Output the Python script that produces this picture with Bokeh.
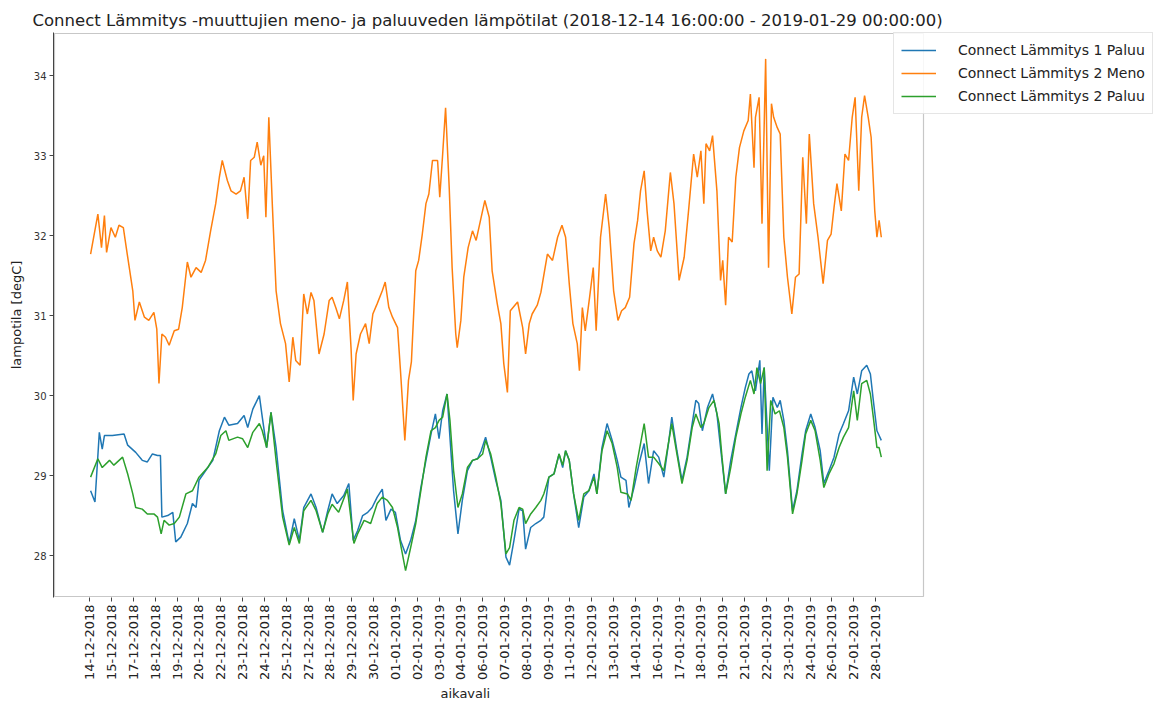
import math
import pandas as pd
from bokeh.plotting import figure
from bokeh.models import (Legend, LegendItem, FixedTicker, DatetimeTickFormatter, Range1d,
                          BoxAnnotation, Title)
from bokeh.embed import file_html
from bokeh.resources import INLINE

# ---------------- data ----------------
start_time = "2018-12-14 16:00:00"
end_time = "2019-01-29 00:00:00"
tick_step_hours = 30
n_ticks = 37

# Connect Lämmitys 1 Paluu (hours from start, degC)
paluu1_hours = [1, 7, 13, 17, 20, 31, 47, 52, 63, 72, 79, 86, 93, 97, 99, 107, 114, 118, 125, 134,
                141, 146, 150, 159, 169, 178, 185, 191, 203, 212, 217, 224, 233, 237, 243, 249, 256, 265, 274, 281,
                288, 294, 304, 311, 320, 327, 333, 340, 349, 356, 362, 368, 375, 382, 388, 395, 402, 407, 414, 420,
                427, 434, 441, 448, 455, 462, 469, 475, 480, 485, 491, 495, 500, 506, 512, 519, 526, 533, 538, 544,
                551, 558, 565, 572, 577, 583, 590, 595, 599, 606, 613, 620, 624, 631, 638, 645, 650, 654, 659, 665,
                672, 679, 686, 693, 697, 704, 711, 718, 725, 730, 737, 741, 748, 755, 762, 768, 775, 782, 789, 796,
                800, 807, 814, 821, 828, 833, 837, 842, 849, 856, 862, 867, 874, 881, 888, 895, 901, 906, 910, 915,
                921, 924, 927, 934, 939, 945, 949, 954, 959, 966, 972, 979, 984, 991, 997, 1004, 1009, 1016, 1023, 1030,
                1036, 1043, 1050, 1055, 1061, 1068, 1073, 1077, 1082, 1085, 1088]
paluu1_vals = [28.81, 28.67, 29.54, 29.33, 29.50, 29.50, 29.52, 29.38, 29.29, 29.19, 29.17, 29.27, 29.25, 29.25, 28.48, 28.50, 28.54, 28.17, 28.23, 28.40,
               28.65, 28.60, 28.94, 29.06, 29.19, 29.56, 29.73, 29.63, 29.65, 29.75, 29.60, 29.83, 30.00, 29.73, 29.35, 29.79, 29.35, 28.56, 28.15, 28.46,
               28.19, 28.60, 28.77, 28.60, 28.29, 28.56, 28.77, 28.65, 28.75, 28.90, 28.19, 28.31, 28.50, 28.54, 28.60, 28.73, 28.83, 28.44, 28.58, 28.54,
               28.19, 28.02, 28.19, 28.44, 28.85, 29.19, 29.52, 29.77, 29.46, 29.81, 30.02, 29.48, 28.81, 28.27, 28.69, 29.06, 29.19, 29.21, 29.31, 29.48,
               29.23, 28.94, 28.69, 27.98, 27.88, 28.19, 28.58, 28.56, 28.08, 28.35, 28.40, 28.44, 28.48, 28.98, 29.02, 29.27, 29.10, 29.31, 29.19, 28.77,
               28.35, 28.73, 28.81, 29.02, 28.77, 29.35, 29.65, 29.44, 29.19, 28.98, 28.94, 28.60, 28.85, 29.15, 29.40, 28.90, 29.31, 29.23, 28.98, 29.44,
               29.73, 29.31, 28.94, 29.23, 29.65, 29.94, 29.90, 29.56, 29.85, 30.02, 29.77, 29.35, 28.77, 29.19, 29.52, 29.85, 30.10, 30.27, 30.31, 30.06,
               30.44, 29.52, 30.35, 29.06, 29.98, 29.85, 29.94, 29.69, 29.31, 28.56, 28.81, 29.27, 29.56, 29.77, 29.60, 29.31, 28.90, 29.06, 29.23, 29.52,
               29.65, 29.81, 30.23, 30.02, 30.31, 30.38, 30.27, 29.94, 29.56, 29.50, 29.44]

# Connect Lämmitys 2 Meno
meno2_hours = [1, 11, 16, 20, 23, 29, 35, 40, 46, 52, 59, 62, 68, 75, 81, 88, 92, 95, 99, 104,
               109, 116, 122, 127, 134, 139, 146, 153, 159, 166, 173, 178, 182, 189, 194, 201, 207, 212, 217, 221,
               226, 230, 235, 239, 242, 246, 251, 256, 262, 269, 274, 279, 283, 289, 294, 299, 304, 308, 315, 322,
               329, 333, 338, 343, 349, 354, 359, 362, 366, 372, 379, 384, 389, 395, 402, 406, 411, 416, 423, 427,
               433, 438, 442, 448, 452, 457, 462, 466, 471, 478, 481, 485, 489, 494, 498, 503, 505, 510, 514, 520,
               526, 531, 537, 543, 549, 553, 560, 565, 569, 574, 578, 588, 595, 599, 604, 608, 615, 620, 629, 636,
               643, 649, 654, 659, 664, 670, 673, 677, 681, 687, 692, 696, 702, 709, 714, 720, 726, 731, 736, 742,
               748, 753, 757, 762, 766, 771, 775, 780, 785, 791, 798, 803, 810, 817, 823, 830, 835, 840, 844, 847,
               852, 856, 862, 867, 870, 874, 878, 883, 888, 893, 899, 905, 908, 913, 915, 920, 924, 929, 933, 937,
               940, 945, 949, 954, 959, 965, 970, 975, 980, 985, 989, 995, 1001, 1008, 1014, 1019, 1023, 1027, 1033, 1038,
               1043, 1048, 1052, 1057, 1061, 1065, 1070, 1074, 1079, 1082, 1085, 1088]
meno2_vals = [31.77, 32.27, 31.85, 32.25, 31.79, 32.10, 31.98, 32.13, 32.10, 31.73, 31.31, 30.94, 31.17, 30.98, 30.94, 31.04, 30.83, 30.15, 30.77, 30.73,
              30.63, 30.81, 30.83, 31.10, 31.67, 31.48, 31.60, 31.54, 31.69, 32.06, 32.40, 32.73, 32.94, 32.69, 32.56, 32.52, 32.56, 32.73, 32.21, 32.94,
              32.98, 33.17, 32.88, 33.00, 32.23, 33.48, 32.35, 31.31, 30.90, 30.65, 30.17, 30.73, 30.44, 30.38, 31.27, 31.02, 31.29, 31.19, 30.52, 30.77,
              31.19, 31.23, 31.10, 30.96, 31.19, 31.42, 30.60, 29.94, 30.52, 30.77, 30.90, 30.65, 31.02, 31.15, 31.31, 31.42, 31.10, 30.98, 30.85, 30.31,
              29.44, 30.19, 30.42, 31.56, 31.69, 32.02, 32.40, 32.52, 32.94, 32.94, 32.48, 33.02, 33.60, 32.60, 31.60, 30.77, 30.60, 30.94, 31.48, 31.85,
              32.06, 31.94, 32.19, 32.44, 32.23, 31.56, 31.15, 30.90, 30.40, 30.04, 31.06, 31.17, 30.85, 30.52, 30.90, 31.02, 31.13, 31.29, 31.77, 31.69,
              31.98, 32.13, 31.98, 31.40, 30.90, 30.65, 30.31, 31.10, 30.81, 31.23, 31.60, 30.81, 31.98, 32.52, 32.10, 31.31, 30.94, 31.06, 31.10, 31.23,
              31.90, 32.19, 32.56, 32.81, 32.31, 31.81, 31.98, 31.81, 31.73, 32.06, 32.79, 32.40, 31.44, 31.73, 32.31, 33.02, 32.73, 33.06, 32.40, 33.15,
              33.06, 33.25, 32.56, 31.44, 31.69, 31.13, 31.98, 31.92, 32.73, 33.10, 33.31, 33.44, 33.77, 32.85, 33.48, 33.73, 32.15, 34.21, 31.60, 33.65,
              33.48, 33.35, 33.27, 31.98, 31.48, 31.02, 31.48, 31.52, 32.98, 32.15, 33.27, 32.40, 31.98, 31.40, 31.94, 32.02, 32.35, 32.65, 32.31, 33.02,
              32.94, 33.48, 33.73, 32.56, 33.48, 33.75, 33.48, 33.23, 32.31, 31.98, 32.19, 31.98]

# Connect Lämmitys 2 Paluu
paluu2_hours = [1, 11, 17, 27, 33, 45, 52, 59, 63, 72, 79, 88, 93, 98, 102, 109, 116, 123, 132, 141,
                150, 162, 173, 180, 187, 191, 203, 210, 217, 224, 233, 237, 243, 249, 256, 265, 274, 281, 288, 294,
                304, 311, 320, 327, 333, 342, 354, 363, 368, 377, 386, 395, 402, 409, 416, 423, 428, 434, 441, 448,
                455, 462, 469, 475, 480, 485, 491, 495, 500, 506, 512, 519, 526, 533, 540, 544, 551, 558, 565, 572,
                577, 583, 590, 595, 599, 606, 613, 620, 624, 631, 638, 645, 650, 654, 659, 665, 672, 679, 686, 693,
                697, 704, 711, 718, 725, 730, 739, 744, 751, 762, 768, 775, 782, 789, 796, 800, 807, 814, 821, 828,
                833, 840, 844, 851, 858, 865, 869, 874, 881, 888, 895, 901, 908, 913, 917, 922, 927, 931, 936, 942,
                948, 954, 959, 966, 972, 979, 984, 991, 997, 1004, 1009, 1016, 1023, 1030, 1036, 1043, 1050, 1055, 1061, 1068,
                1073, 1077, 1082, 1085, 1088]
paluu2_vals = [28.98, 29.21, 29.10, 29.19, 29.13, 29.23, 29.02, 28.77, 28.60, 28.58, 28.52, 28.52, 28.48, 28.27, 28.44, 28.38, 28.40, 28.48, 28.77, 28.81,
               28.98, 29.10, 29.27, 29.50, 29.56, 29.44, 29.48, 29.46, 29.35, 29.54, 29.65, 29.56, 29.35, 29.79, 29.19, 28.48, 28.13, 28.35, 28.15, 28.56,
               28.69, 28.56, 28.29, 28.52, 28.64, 28.54, 28.83, 28.15, 28.27, 28.44, 28.40, 28.65, 28.73, 28.69, 28.60, 28.35, 28.10, 27.81, 28.10, 28.40,
               28.81, 29.23, 29.56, 29.60, 29.69, 29.73, 30.02, 29.69, 29.06, 28.60, 28.77, 29.10, 29.19, 29.21, 29.27, 29.44, 29.27, 28.98, 28.65, 28.02,
               28.10, 28.44, 28.60, 28.58, 28.40, 28.52, 28.60, 28.69, 28.77, 28.98, 29.02, 29.27, 29.13, 29.31, 29.19, 28.77, 28.44, 28.77, 28.81, 28.98,
               28.77, 29.31, 29.56, 29.40, 29.10, 28.79, 28.77, 28.69, 29.10, 29.65, 29.23, 29.23, 29.15, 29.06, 29.44, 29.65, 29.27, 28.90, 29.19, 29.60,
               29.77, 29.60, 29.65, 29.85, 29.94, 29.65, 29.23, 28.77, 29.10, 29.48, 29.77, 29.98, 30.19, 30.02, 30.35, 30.15, 30.35, 29.06, 29.94, 29.77,
               29.81, 29.60, 29.23, 28.52, 28.77, 29.19, 29.52, 29.69, 29.56, 29.19, 28.85, 29.02, 29.15, 29.35, 29.48, 29.60, 30.06, 29.69, 30.15, 30.19,
               30.02, 29.73, 29.35, 29.35, 29.23]

series_labels = ["Connect Lämmitys 1 Paluu", "Connect Lämmitys 2 Meno", "Connect Lämmitys 2 Paluu"]
series_colors = ["#1f77b4", "#ff7f0e", "#2ca02c"]
y_ticks = [28, 29, 30, 31, 32, 33, 34]
title_text = "Connect Lämmitys -muuttujien meno- ja paluuveden lämpötilat (2018-12-14 16:00:00 - 2019-01-29 00:00:00)"
x_label = "aikavali"
y_label = "lampotila [degC]"

# ---------------- layout geometry (pixels) ----------------
W, H = 1164, 706
AX_LEFT, AX_RIGHT, AX_TOP, AX_BOTTOM = 53, 923, 32, 597   # axes box in page pixels
X_PAD_BEFORE, X_SPAN = 50, 1196                              # hours shown inside the axes box
FONT = "DejaVu Sans"

# the canvas frame runs to the right edge so that the legend can overlap the axes box;
# the visible axes box is drawn separately
frame_w = W - AX_LEFT
frame_h = AX_BOTTOM - AX_TOP
box_w = AX_RIGHT - AX_LEFT
hours_end = -X_PAD_BEFORE + X_SPAN * frame_w / box_w

t0 = pd.Timestamp(start_time)
def to_time(hours):
    return [t0 + pd.Timedelta(hours=h) for h in hours]

tick_ms = [int((t0 + pd.Timedelta(hours=tick_step_hours * i)).value // 10**6) for i in range(n_ticks)]

p = figure(width=W, height=H, x_axis_type="datetime",
           output_backend="svg", toolbar_location=None,
           x_range=Range1d(t0 - pd.Timedelta(hours=X_PAD_BEFORE), t0 + pd.Timedelta(hours=hours_end)),
           y_range=Range1d(27.475, 34.54),
           min_border_left=AX_LEFT, min_border_right=0, min_border_top=AX_TOP, min_border_bottom=H - AX_BOTTOM,
           background_fill_color="white", border_fill_color="white")
p.title = Title(text=title_text, align="left", offset=-21, text_font=FONT, text_font_size="16.5px",
                text_font_style="normal", text_color="#222222", standoff=5)

p.grid.visible = False
p.outline_line_color = None

for ax in (p.xaxis[0], p.yaxis[0]):
    ax.axis_line_color = "#444444"
    ax.major_tick_line_color = "#444444"
    ax.major_tick_out = 4
    ax.major_tick_in = 0
    ax.minor_tick_line_color = None
    ax.major_label_text_font = FONT
    ax.major_label_text_color = "#333333"
    ax.major_label_standoff = 3
    ax.axis_label_text_font = FONT
    ax.axis_label_text_font_size = "13px"
    ax.axis_label_text_font_style = "normal"
    ax.axis_label_text_color = "#222222"

p.xaxis.axis_line_color = None
p.xaxis.ticker = FixedTicker(ticks=tick_ms)
fmt = "%d-%m-%Y"
p.xaxis.formatter = DatetimeTickFormatter(microseconds=fmt, milliseconds=fmt, seconds=fmt, minsec=fmt,
                                          minutes=fmt, hourmin=fmt, hours=fmt, days=fmt, months=fmt, years=fmt)
p.xaxis.major_label_orientation = math.pi / 2
p.xaxis.major_label_text_font_size = "13px"
p.xaxis.major_label_text_color = "#222222"

p.yaxis.ticker = FixedTicker(ticks=y_ticks)
p.yaxis.major_label_text_font_size = "10px"
p.yaxis.axis_label = y_label
p.yaxis.axis_label_standoff = 7

# x axis title below the tick labels
p.add_layout(Title(text=x_label, align="left", offset=387, text_font=FONT, text_font_size="13px",
                   text_font_style="normal", text_color="#222222", standoff=0), "below")

# visible axes box (kept 1px inside the canvas frame so no edge is clipped)
p.add_layout(BoxAnnotation(left=1, right=box_w, bottom=1, top=frame_h - 1,
                           left_units="screen", right_units="screen", top_units="screen", bottom_units="screen",
                           fill_alpha=0, line_color="#444444", line_width=1.2))

r1 = p.line(to_time(paluu1_hours), paluu1_vals, color=series_colors[0], line_width=1.5)
r2 = p.line(to_time(meno2_hours), meno2_vals, color=series_colors[1], line_width=1.5)
r3 = p.line(to_time(paluu2_hours), paluu2_vals, color=series_colors[2], line_width=1.5)

legend = Legend(items=[LegendItem(label=series_labels[0], renderers=[r1]),
                       LegendItem(label=series_labels[1], renderers=[r2]),
                       LegendItem(label=series_labels[2], renderers=[r3])],
                location=(893 - AX_LEFT, AX_BOTTOM - 114))
legend.label_text_font = FONT
legend.label_text_font_size = "14px"
legend.label_text_color = "#222222"
legend.glyph_width = 35
legend.glyph_height = 20
legend.label_height = 20
legend.spacing = 3
legend.padding = 7
legend.margin = 0
legend.label_standoff = 22
legend.border_line_color = "#cccccc"
legend.background_fill_color = "white"
legend.background_fill_alpha = 0.85
p.add_layout(legend)

open("out.html", "w").write(file_html(p, INLINE))
